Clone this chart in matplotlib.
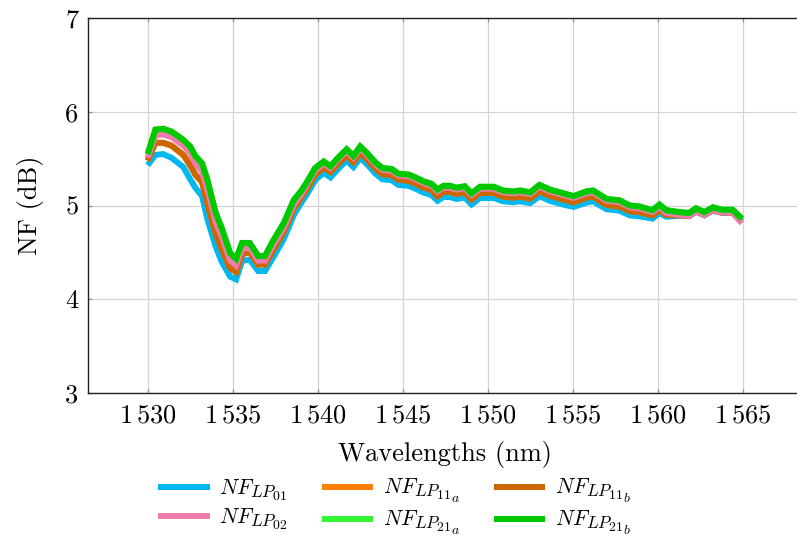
import matplotlib
matplotlib.use("Agg")
import matplotlib.pyplot as plt
import matplotlib._mathtext as _mt

# TeX-like (larger) sub- and sub-subscript sizes
_mt.SHRINK_FACTOR = 0.8
_mt.NUM_SIZE_LEVELS = 3

plt.rcParams['font.family'] = 'serif'
plt.rcParams['font.serif'] = ['cmr10']
plt.rcParams['mathtext.fontset'] = 'cm'
plt.rcParams['axes.formatter.use_mathtext'] = True

# ---------------- data ----------------
wavelength = [1530.0, 1530.45, 1530.9, 1531.4, 1532.1, 1532.5, 1532.8, 1533.2, 1533.5, 1534.0,
              1534.35, 1534.85, 1535.2, 1535.55, 1536.0, 1536.5, 1536.9, 1537.4, 1538.0, 1538.6,
              1539.0, 1539.3, 1539.85, 1540.35, 1540.75, 1541.2, 1541.7, 1542.1, 1542.5, 1542.9,
              1543.4, 1543.8, 1544.35, 1544.75, 1545.35, 1545.75, 1546.2, 1546.7, 1547.05, 1547.4,
              1547.8, 1548.15, 1548.65, 1549.05, 1549.55, 1550.35, 1550.9, 1551.5, 1551.9, 1552.5,
              1553.05, 1553.65, 1554.45, 1555.05, 1555.8, 1556.2, 1556.6, 1557.0, 1557.75, 1558.35,
              1558.9, 1559.7, 1560.1, 1560.5, 1561.25, 1561.85, 1562.25, 1562.75, 1563.25, 1563.8,
              1564.4, 1564.95]

nf_lp01 = [5.43, 5.54, 5.55, 5.51, 5.41, 5.28, 5.19, 5.10, 4.86, 4.56,
           4.40, 4.24, 4.21, 4.41, 4.42, 4.30, 4.30, 4.45, 4.64, 4.90,
           5.02, 5.10, 5.27, 5.35, 5.30, 5.39, 5.48, 5.41, 5.51, 5.44,
           5.34, 5.28, 5.27, 5.22, 5.21, 5.18, 5.14, 5.11, 5.05, 5.09,
           5.09, 5.07, 5.085, 5.01, 5.08, 5.08, 5.045, 5.035, 5.045, 5.025,
           5.10, 5.05, 5.01, 4.985, 5.03, 5.045, 5.00, 4.96, 4.945, 4.895,
           4.885, 4.86, 4.92, 4.88, 4.89, 4.885, 4.935, 4.895, 4.945, 4.92,
           4.92, 4.83]

nf_lp11a = [5.48, 5.67, 5.67, 5.64, 5.54, 5.43, 5.33, 5.25, 5.03, 4.70,
            4.54, 4.33, 4.29, 4.48, 4.50, 4.37, 4.37, 4.53, 4.72, 4.97,
            5.08, 5.16, 5.33, 5.41, 5.36, 5.45, 5.535, 5.465, 5.565, 5.495,
            5.395, 5.335, 5.325, 5.275, 5.265, 5.235, 5.195, 5.165, 5.10, 5.145,
            5.145, 5.125, 5.14, 5.065, 5.135, 5.135, 5.095, 5.085, 5.095, 5.075,
            5.155, 5.105, 5.065, 5.035, 5.085, 5.095, 5.05, 5.005, 4.99, 4.94,
            4.93, 4.895, 4.955, 4.90, 4.895, 4.89, 4.94, 4.90, 4.95, 4.925,
            4.925, 4.86]

nf_lp11b = [5.48, 5.67, 5.67, 5.64, 5.54, 5.43, 5.33, 5.25, 5.03, 4.70,
            4.54, 4.33, 4.29, 4.48, 4.50, 4.37, 4.37, 4.53, 4.72, 4.97,
            5.08, 5.16, 5.33, 5.41, 5.36, 5.45, 5.535, 5.465, 5.565, 5.495,
            5.395, 5.335, 5.325, 5.275, 5.265, 5.235, 5.195, 5.165, 5.10, 5.145,
            5.145, 5.125, 5.14, 5.065, 5.135, 5.135, 5.095, 5.085, 5.095, 5.075,
            5.155, 5.105, 5.065, 5.035, 5.085, 5.095, 5.05, 5.005, 4.99, 4.94,
            4.93, 4.895, 4.955, 4.90, 4.895, 4.89, 4.94, 4.90, 4.95, 4.925,
            4.925, 4.85]

nf_lp02 = [5.51, 5.75, 5.76, 5.73, 5.64, 5.56, 5.45, 5.36, 5.18, 4.82,
           4.67, 4.41, 4.36, 4.54, 4.55, 4.41, 4.41, 4.58, 4.76, 5.01,
           5.11, 5.20, 5.37, 5.45, 5.40, 5.49, 5.58, 5.51, 5.61, 5.54,
           5.44, 5.38, 5.37, 5.32, 5.31, 5.28, 5.24, 5.21, 5.15, 5.19,
           5.19, 5.17, 5.185, 5.11, 5.18, 5.18, 5.14, 5.13, 5.14, 5.12,
           5.20, 5.15, 5.11, 5.08, 5.13, 5.14, 5.095, 5.05, 5.035, 4.98,
           4.97, 4.93, 4.985, 4.92, 4.90, 4.89, 4.94, 4.90, 4.95, 4.925,
           4.925, 4.81]

nf_lp21a = [5.55, 5.81, 5.82, 5.79, 5.70, 5.63, 5.53, 5.45, 5.28, 4.92,
            4.76, 4.49, 4.43, 4.60, 4.60, 4.46, 4.46, 4.63, 4.81, 5.06,
            5.15, 5.23, 5.40, 5.47, 5.42, 5.51, 5.60, 5.53, 5.63, 5.56,
            5.46, 5.40, 5.39, 5.34, 5.33, 5.30, 5.26, 5.23, 5.17, 5.21,
            5.21, 5.19, 5.205, 5.13, 5.20, 5.20, 5.16, 5.15, 5.16, 5.14,
            5.22, 5.17, 5.13, 5.10, 5.15, 5.16, 5.115, 5.07, 5.055, 5.00,
            4.99, 4.95, 5.01, 4.95, 4.93, 4.92, 4.97, 4.93, 4.98, 4.955,
            4.955, 4.86]

nf_lp21b = [5.55, 5.81, 5.82, 5.79, 5.70, 5.63, 5.53, 5.45, 5.28, 4.92,
            4.76, 4.49, 4.43, 4.60, 4.60, 4.46, 4.46, 4.63, 4.81, 5.06,
            5.15, 5.23, 5.40, 5.47, 5.42, 5.51, 5.60, 5.53, 5.63, 5.56,
            5.46, 5.40, 5.39, 5.34, 5.33, 5.30, 5.26, 5.23, 5.17, 5.21,
            5.21, 5.19, 5.205, 5.13, 5.20, 5.20, 5.16, 5.15, 5.16, 5.14,
            5.22, 5.17, 5.13, 5.10, 5.15, 5.16, 5.115, 5.07, 5.055, 5.00,
            4.99, 4.95, 5.01, 4.95, 4.93, 4.92, 4.97, 4.93, 4.98, 4.955,
            4.955, 4.86]

series_labels = [r"$NF_{LP_{01}}$", r"$NF_{LP_{11_a}}$", r"$NF_{LP_{11_b}}$",
                 r"$NF_{LP_{02}}$", r"$NF_{LP_{21_a}}$", r"$NF_{LP_{21_b}}$"]
series_colors = ["#00B8F0", "#FF8000", "#CC6600", "#F07AAA", "#33F533", "#00C800"]

xtick_values = [1530, 1535, 1540, 1545, 1550, 1555, 1560, 1565]
xtick_labels = [r"$1\,530$", r"$1\,535$", r"$1\,540$", r"$1\,545$",
                r"$1\,550$", r"$1\,555$", r"$1\,560$", r"$1\,565$"]
ytick_values = [3, 4, 5, 6, 7]
ytick_labels = ["3", "4", "5", "6", "7"]

# ---------------- figure ----------------
W, H = 797, 540
fig = plt.figure(figsize=(W / 100, H / 100), dpi=100)
ax = fig.add_axes([88.2 / W, 147.3 / H, 714.0 / W, 374.4 / H])

series = [nf_lp01, nf_lp11a, nf_lp11b, nf_lp02, nf_lp21a, nf_lp21b]
handles = []
for vals, lab, col in zip(series, series_labels, series_colors):
    h, = ax.plot(wavelength, vals, color=col, lw=4.3, label=lab,
                 solid_joinstyle='miter', solid_capstyle='butt', zorder=3)
    handles.append(h)

ax.set_xlim(1526.5, 1568.5)
ax.set_ylim(3, 7)
ax.set_xticks(xtick_values)
ax.set_xticklabels(xtick_labels)
ax.set_yticks(ytick_values)
ax.set_yticklabels(ytick_labels)

ax.grid(True, color='#d4d4d4', lw=0.9)
ax.set_axisbelow(True)
ax.tick_params(direction='in', length=3, width=0.9, color='#909090',
               top=True, right=True, labelsize=19)
ax.tick_params(axis='x', pad=8)
ax.tick_params(axis='y', pad=7)
for s in ax.spines.values():
    s.set_color('#222222')
    s.set_linewidth(1.0)

ax.set_xlabel("Wavelengths (nm)", fontsize=19, labelpad=10)
ax.set_ylabel("NF (dB)", fontsize=19, labelpad=15)

# legend: row-wise order as in the reference
order = [0, 3, 1, 4, 2, 5]
leg = fig.legend([handles[i] for i in order], [series_labels[i] for i in order],
                 ncol=3, loc='upper left', bbox_to_anchor=(158 / W, 1 - 477 / H),
                 frameon=False, fontsize=15.5, handlelength=2.4, handletextpad=0.45,
                 columnspacing=1.55, labelspacing=0.15, borderaxespad=0, borderpad=0)
for lh in leg.get_lines():
    lh.set_linewidth(4.3)

fig.savefig("out.png", dpi=100)
